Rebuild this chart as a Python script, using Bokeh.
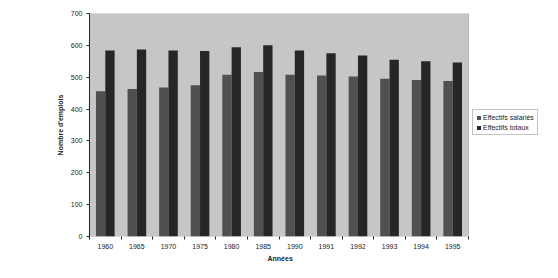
from bokeh.plotting import figure
from bokeh.models import ColumnDataSource, FixedTicker, Legend, LegendItem, BoxAnnotation, Title
from bokeh.embed import file_html
from bokeh.resources import INLINE

years = ["1960", "1965", "1970", "1975", "1980", "1985", "1990", "1991", "1992", "1993", "1994", "1995"]
salaries = [456, 463, 468, 475, 508, 516, 508, 505, 502, 495, 491, 488]
totaux = [584, 587, 584, 582, 594, 600, 584, 575, 568, 555, 550, 546]

n = len(years)
centers = [i + 0.5 for i in range(n)]
bw = 0.295
src = ColumnDataSource(dict(
    xs=[c - bw / 2 for c in centers],
    xt=[c + bw / 2 for c in centers],
    sal=salaries, tot=totaux))

FONT = "Liberation Sans"
W, H = 558, 278
LEFT, RIGHT_EDGE = 89, 468  # pixel extent of the plotting area

x_end = n * (W - LEFT) / (RIGHT_EDGE - LEFT)

p = figure(width=W, height=H, x_range=(0, x_end), y_range=(0, 700),
           output_backend="svg", toolbar_location=None,
           min_border_left=LEFT, min_border_right=0, min_border_top=13, min_border_bottom=42)
p.background_fill_color = "white"
p.border_fill_color = "white"
p.outline_line_color = None
p.grid.visible = False

bg = BoxAnnotation(left=0, right=n, bottom=0, top=700, fill_color="#c6c6c6", fill_alpha=1,
                   line_color="#555555", line_width=1, level="underlay")
p.add_layout(bg)

r1 = p.vbar(x="xs", top="sal", bottom=0, width=bw, source=src,
            fill_color="#505050", line_color=None)
r2 = p.vbar(x="xt", top="tot", bottom=0, width=bw, source=src,
            fill_color="#262626", line_color=None)

p.xaxis.ticker = FixedTicker(ticks=centers, minor_ticks=list(range(n + 1)))
p.xaxis.major_label_overrides = {c: y for c, y in zip(centers, years)}
p.xaxis.major_tick_out = 0
p.xaxis.major_tick_in = 0
p.xaxis.minor_tick_out = 3
p.xaxis.minor_tick_in = 0
p.xaxis.axis_line_color = None
p.yaxis.ticker = FixedTicker(ticks=list(range(0, 701, 100)))
p.yaxis.major_tick_out = 3
p.yaxis.major_tick_in = 0
p.yaxis.axis_line_color = "#222222"

for ax in (p.xaxis, p.yaxis):
    ax.major_tick_line_color = "#222222"
    ax.minor_tick_line_color = "#222222"
    ax.major_label_text_font = FONT
    ax.major_label_text_font_size = "7px"
    ax.major_label_text_color = "#222222"
    ax.axis_label_text_font = FONT
    ax.axis_label_text_font_size = "7px"
    ax.axis_label_text_font_style = "bold"
    ax.axis_label_text_color = "#222222"
    ax.major_label_standoff = 4

p.yaxis.minor_tick_line_color = None
p.yaxis.axis_label = "Nombre d'emplois"
p.yaxis.axis_label_standoff = 4

xlabel = Title(text="Années", align="left", offset=178, standoff=2,
               text_font=FONT, text_font_size="7px", text_font_style="bold",
               text_color="#222222")
p.add_layout(xlabel, "below")

legend = Legend(items=[LegendItem(label="Effectifs salariés", renderers=[r1]),
                       LegendItem(label="Effectifs totaux", renderers=[r2])],
                location=(383, 101))
legend.label_text_font = FONT
legend.label_text_font_size = "7px"
legend.label_text_color = "#222222"
legend.glyph_width = 5
legend.glyph_height = 5
legend.label_height = 8
legend.label_standoff = 2
legend.spacing = 2
legend.padding = 3
legend.margin = 0
legend.border_line_color = "#888888"
legend.background_fill_color = "white"
legend.background_fill_alpha = 1
p.add_layout(legend, "center")

open("out.html", "w").write(file_html(p, INLINE))
